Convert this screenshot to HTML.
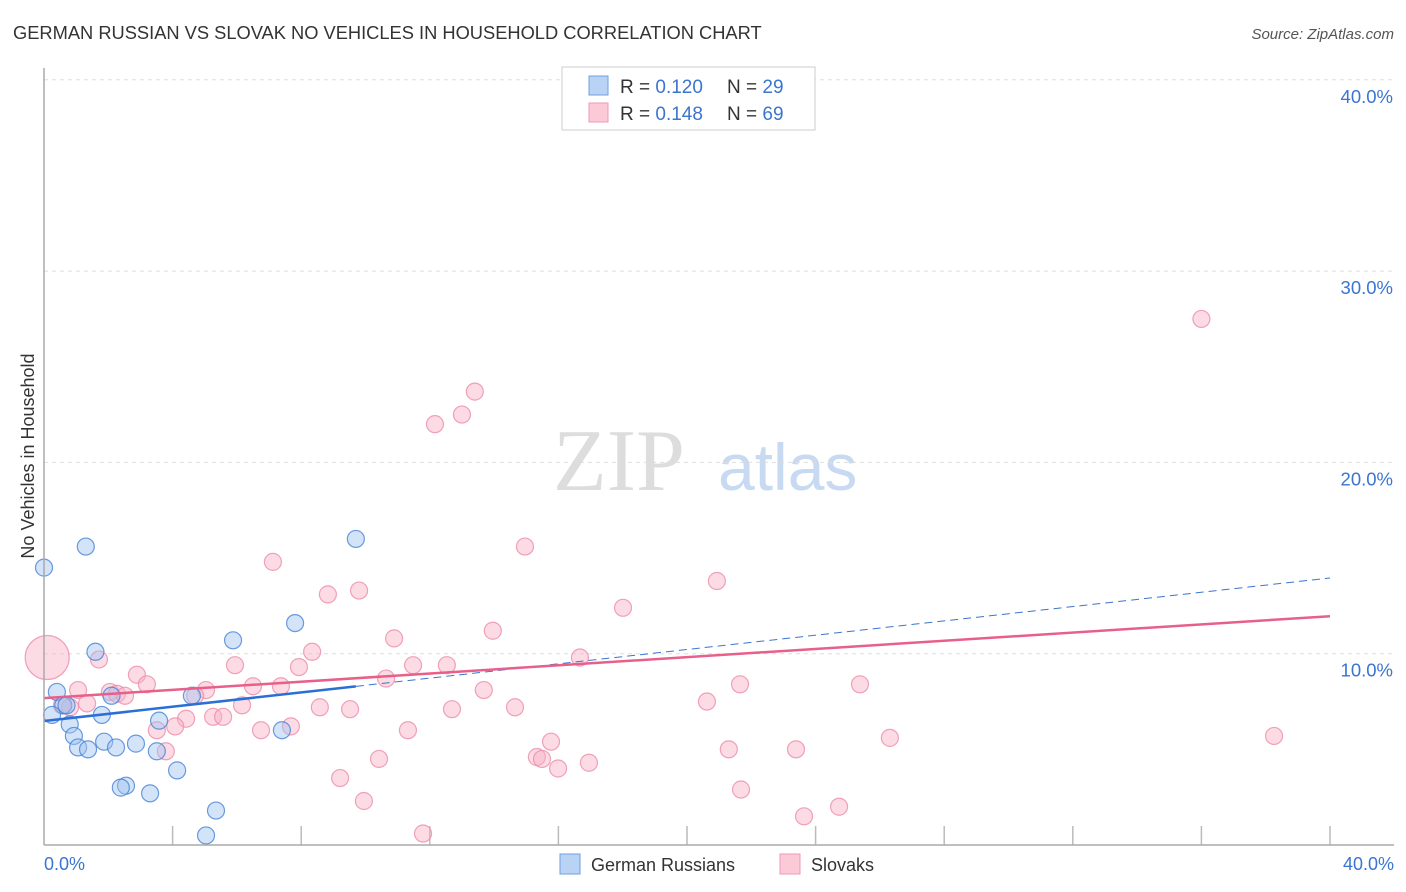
<!DOCTYPE html>
<html><head><meta charset="utf-8"><style>
body{margin:0;background:#fff;font-family:"Liberation Sans",sans-serif;}
#wrap{position:relative;width:1406px;height:892px;overflow:hidden;}
</style></head><body><div id="wrap">
<svg id="svg" width="1406" height="892" xmlns="http://www.w3.org/2000/svg">
<text x="13" y="39" font-size="18.3" fill="#333">GERMAN RUSSIAN VS SLOVAK NO VEHICLES IN HOUSEHOLD CORRELATION CHART</text>
<text x="1394" y="39" font-size="15" fill="#555" font-style="italic" text-anchor="end">Source: ZipAtlas.com</text>
<text x="553" y="490" font-size="88" fill="#ddd" font-family="Liberation Serif,serif">ZIP</text>
<text x="718" y="490" font-size="66" fill="#c8daf2">atlas</text>
<text x="34" y="456" font-size="18" fill="#333" transform="rotate(-90 34 456)" text-anchor="middle">No Vehicles in Household</text>
<g id="grid"></g><g id="marks"></g>
<line x1="44" y1="68" x2="44" y2="845" stroke="#aaa" stroke-width="1.5"/>
<line x1="44" y1="845" x2="1394" y2="845" stroke="#aaa" stroke-width="1.5"/>
<text x="44" y="870" font-size="18" fill="#3a75d0">0.0%</text>
<text x="1394" y="870" font-size="18" fill="#3a75d0" text-anchor="end">40.0%</text>
<rect x="562" y="67" width="253" height="63" fill="#fff" stroke="#ccc"/>
<rect x="589" y="76" width="19" height="19" fill="#b9d3f5" stroke="#6f9fe0"/>
<rect x="589" y="103" width="19" height="19" fill="#fbc9d8" stroke="#ee9ab5"/>
<text x="620" y="93" font-size="19" fill="#333">R = <tspan fill="#3a75d0">0.120</tspan><tspan x="727">N = </tspan><tspan fill="#3a75d0">29</tspan></text>
<text x="620" y="120" font-size="19" fill="#333">R = <tspan fill="#3a75d0">0.148</tspan><tspan x="727">N = </tspan><tspan fill="#3a75d0">69</tspan></text>
<rect x="560" y="854" width="20" height="20" fill="#b9d3f5" stroke="#6f9fe0"/>
<text x="591" y="871" font-size="18" fill="#333">German Russians</text>
<rect x="780" y="854" width="20" height="20" fill="#fbc9d8" stroke="#ee9ab5"/>
<text x="811" y="871" font-size="18" fill="#333">Slovaks</text>
</svg></div>
<script>
const yTicks=[10,20,30,40];
const yTickLabels=["10.0%","20.0%","30.0%","40.0%"];
const blueX=[0.0,1.3,9.7,0.4,0.6,0.7,0.25,1.6,2.1,1.8,0.8,0.93,1.06,1.37,1.87,2.24,2.86,3.58,3.51,4.6,5.88,7.81,7.4,4.14,2.55,2.39,3.30,5.35,5.04];
const blueY=[14.5,15.6,16.0,8.0,7.3,7.3,6.8,10.1,7.8,6.8,6.3,5.7,5.1,5.0,5.4,5.1,5.3,6.5,4.9,7.8,10.7,11.6,6.0,3.9,3.1,3.0,2.7,1.8,0.5];
const pinkX=[0.1,36.0,13.4,13.0,12.16,14.96,7.12,20.93,9.8,8.83,18.01,13.96,10.89,8.34,1.71,5.94,7.93,11.48,12.53,16.67,2.89,3.2,1.06,2.05,2.27,2.52,5.04,6.5,7.37,4.7,10.64,13.68,21.65,25.38,1.34,0.56,0.81,6.16,8.58,9.52,12.69,14.65,20.62,4.42,5.26,5.57,4.08,7.68,3.51,6.75,11.32,3.79,15.77,26.31,38.26,21.3,23.39,15.33,15.49,10.42,15.99,16.95,9.21,21.68,9.95,24.73,23.64,11.79];
const pinkY=[9.8,27.5,23.7,22.5,22.0,15.6,14.8,13.8,13.3,13.1,12.4,11.2,10.8,10.1,9.7,9.4,9.3,9.4,9.4,9.8,8.9,8.4,8.1,8.0,7.9,7.8,8.1,8.3,8.3,7.8,8.7,8.1,8.4,8.4,7.4,7.3,7.2,7.3,7.2,7.1,7.1,7.2,7.5,6.6,6.7,6.7,6.2,6.2,6.0,6.0,6.0,4.9,5.4,5.6,5.7,5.0,5.0,4.6,4.5,4.5,4.0,4.3,3.5,2.9,2.3,2.0,1.5,0.6];
const blueTrend=[6.48,0.187];
const pinkTrend=[7.68,0.107];
const ns="http://www.w3.org/2000/svg";
const X0=44,X1=1330,Y0=845,PXY=19.13;
function sx(v){return X0+(X1-X0)*v/40;}
function sy(v){return Y0-v*PXY;}
const grid=document.getElementById('grid'),marks=document.getElementById('marks');
function mk(tag,attrs,parent){const e=document.createElementNS(ns,tag);for(const k in attrs)e.setAttribute(k,attrs[k]);parent.appendChild(e);return e;}
yTicks.forEach((t,i)=>{
 const l=mk('line',{x1:44,x2:1394,y1:sy(t),y2:sy(t),stroke:'#ddd','stroke-dasharray':'4,4'},grid);
 
 
 const tx=mk('text',{x:1393,y:sy(t)+23,'font-size':18.5,fill:'#3a75d0','text-anchor':'end'},grid);
 tx.textContent=yTickLabels[i];
 
 
});
for(let i=1;i<=10;i++){
 const l=mk('line',{x1:sx(i*4),x2:sx(i*4),y1:826,y2:845,stroke:'#bbb','stroke-width':1.5},grid);
 
 
}
pinkX.forEach((x,i)=>{
 const c=mk('circle',{cx:sx(x),cy:sy(pinkY[i]),r:i===0?22:8.5,fill:'rgba(248,175,198,0.45)',stroke:'rgba(236,140,170,0.8)','stroke-width':1.2},marks);
 
 
});
blueX.forEach((x,i)=>{
 const c=mk('circle',{cx:sx(x),cy:sy(blueY[i]),r:8.5,fill:'rgba(160,195,240,0.45)',stroke:'rgba(70,130,215,0.8)','stroke-width':1.2},marks);
 
 
});
const bf=blueTrend,pf=pinkTrend;
const bmax=Math.max(...blueX);
let l=mk('line',{x1:sx(bmax),y1:sy(bf[0]+bf[1]*bmax),x2:sx(40),y2:sy(bf[0]+bf[1]*40),stroke:'#3a75d0','stroke-width':1,'stroke-dasharray':'8,5'},marks);


l=mk('line',{x1:sx(0),y1:sy(bf[0]),x2:sx(bmax),y2:sy(bf[0]+bf[1]*bmax),stroke:'#2a6fd6','stroke-width':2.5},marks);


l=mk('line',{x1:sx(0),y1:sy(pf[0]),x2:sx(40),y2:sy(pf[0]+pf[1]*40),stroke:'#e8608a','stroke-width':2.5},marks);


</script></body></html>
